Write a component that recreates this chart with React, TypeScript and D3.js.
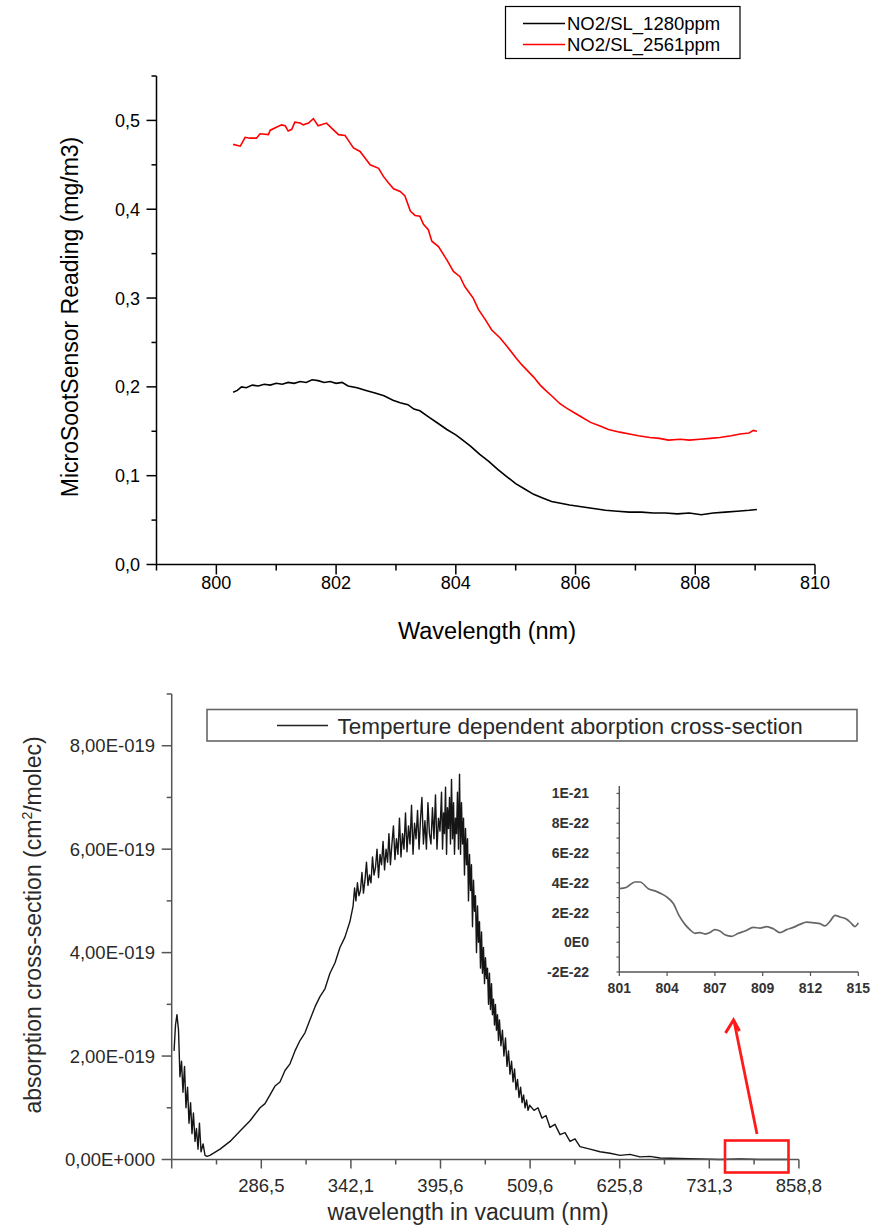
import React from "react";
import * as d3 from "d3";

const W = 882;
const H = 1228;
const FONT = "'Liberation Sans', Arial, Helvetica, sans-serif";

// ---------- top chart: MicroSootSensor readings ----------
const sensorSeries = ["NO2/SL_1280ppm", "NO2/SL_2561ppm"];
const sensorColors = ["#000000", "#ff0000"];

const reading1280: [number, number][] = [
  [800.28, 0.194], [800.35, 0.196], [800.42, 0.2], [800.5, 0.199], [800.6, 0.202], [800.7, 0.201],
  [800.8, 0.203], [800.9, 0.202], [801.0, 0.204], [801.1, 0.203], [801.2, 0.205], [801.3, 0.204],
  [801.4, 0.206], [801.5, 0.205], [801.6, 0.208], [801.7, 0.207], [801.8, 0.205], [801.9, 0.206],
  [802.0, 0.204], [802.1, 0.205], [802.2, 0.201], [802.35, 0.199], [802.5, 0.196], [802.65, 0.193],
  [802.8, 0.19], [802.95, 0.185], [803.07, 0.182], [803.2, 0.18], [803.3, 0.175], [803.4, 0.173],
  [803.55, 0.166], [803.7, 0.159], [803.85, 0.152], [804.0, 0.146], [804.1, 0.141], [804.25, 0.133],
  [804.4, 0.124], [804.55, 0.116], [804.7, 0.107], [804.85, 0.099], [805.0, 0.091], [805.15, 0.085],
  [805.3, 0.079], [805.45, 0.075], [805.6, 0.071], [805.75, 0.069], [805.9, 0.067], [806.1, 0.065],
  [806.3, 0.063], [806.5, 0.061], [806.7, 0.06], [806.9, 0.059], [807.1, 0.059], [807.3, 0.058],
  [807.5, 0.058], [807.7, 0.057], [807.9, 0.058], [808.1, 0.056], [808.3, 0.058], [808.5, 0.059],
  [808.7, 0.06], [808.9, 0.061], [809.03, 0.062],
];

const reading2561: [number, number][] = [
  [800.28, 0.473], [800.4, 0.471], [800.48, 0.481], [800.56, 0.48], [800.67, 0.48], [800.73, 0.485],
  [800.87, 0.484], [800.9, 0.489], [801.09, 0.495], [801.15, 0.494], [801.2, 0.488], [801.26, 0.49],
  [801.31, 0.498], [801.4, 0.497], [801.45, 0.495], [801.54, 0.497], [801.62, 0.502], [801.7, 0.494],
  [801.84, 0.497], [801.93, 0.491], [802.04, 0.484], [802.15, 0.483], [802.23, 0.475], [802.29, 0.469],
  [802.4, 0.465], [802.48, 0.458], [802.57, 0.45], [802.71, 0.446], [802.79, 0.437], [802.87, 0.43],
  [802.96, 0.423], [803.07, 0.42], [803.15, 0.415], [803.24, 0.398], [803.32, 0.393], [803.4, 0.392],
  [803.46, 0.383], [803.54, 0.377], [803.6, 0.364], [803.71, 0.358], [803.85, 0.343], [803.96, 0.33],
  [804.07, 0.324], [804.15, 0.313], [804.29, 0.3], [804.38, 0.287], [804.49, 0.276], [804.6, 0.264],
  [804.74, 0.255], [804.85, 0.246], [805.0, 0.233], [805.1, 0.225], [805.2, 0.218], [805.3, 0.211],
  [805.41, 0.202], [805.5, 0.196], [805.6, 0.19], [805.74, 0.181], [805.85, 0.176], [806.0, 0.17],
  [806.1, 0.166], [806.25, 0.16], [806.41, 0.156], [806.55, 0.152], [806.74, 0.149], [806.9, 0.147],
  [807.05, 0.145], [807.24, 0.143], [807.4, 0.142], [807.55, 0.14], [807.75, 0.141], [807.9, 0.14],
  [808.08, 0.141], [808.25, 0.142], [808.41, 0.143], [808.6, 0.145], [808.75, 0.147], [808.9, 0.148],
  [808.97, 0.151], [809.03, 0.15],
];

const topYTicks = [0, 0.1, 0.2, 0.3, 0.4, 0.5];
const topYTickLabels = ["0,0", "0,1", "0,2", "0,3", "0,4", "0,5"];
const topYMinor = [0.05, 0.15, 0.25, 0.35, 0.45, 0.55];
const topXTicks = [800, 802, 804, 806, 808, 810];
const topXMinor = [799, 801, 803, 805, 807, 809];

// ---------- bottom chart: absorption cross-section (values in 1E-19 cm²/molec) ----------
const wavelengthStops = [230, 286.5, 342.1, 395.6, 509.6, 625.8, 731.3, 858.8];
const wavelengthLabels = ["", "286,5", "342,1", "395,6", "509,6", "625,8", "731,3", "858,8"];
const crossTicks = [0, 2, 4, 6, 8];
const crossTickLabels = ["0,00E+000", "2,00E-019", "4,00E-019", "6,00E-019", "8,00E-019"];
const crossMinor = [1, 3, 5, 7, 9];

const crossSection: [number, number][] = [
  [231.5, 2.1], [232.4, 2.6], [233.3, 2.8], [234.3, 2.5], [235.2, 1.6], [236.2, 1.9], [237.1, 1.3],
  [238.1, 1.8], [239.0, 1.0], [240.0, 1.4], [240.9, 0.7], [241.9, 1.1], [242.8, 0.5], [243.7, 0.9],
  [244.7, 0.35], [245.6, 0.6], [246.6, 0.2], [247.5, 0.7], [248.5, 0.15], [249.8, 0.3], [251.0, 0.08],
  [252.3, 0.06], [254.1, 0.08], [260.5, 0.2], [266.8, 0.35], [273.1, 0.55], [279.4, 0.75], [285.7, 1.0],
  [288.8, 1.08], [291.9, 1.25], [295.0, 1.42], [298.1, 1.5], [301.2, 1.72], [304.3, 1.85], [307.4, 2.1],
  [310.5, 2.3], [313.6, 2.45], [316.7, 2.7], [319.8, 2.95], [322.9, 3.15], [326.0, 3.3], [329.1, 3.6],
  [332.2, 3.8], [335.3, 4.1], [338.4, 4.3], [341.5, 4.6], [343.4, 4.9], [344.3, 5.25], [345.1, 5.0],
  [346.0, 5.35], [346.9, 5.1], [347.8, 5.2], [348.7, 5.55], [349.6, 5.15], [350.5, 5.4], [351.4, 5.75],
  [352.3, 5.3], [353.2, 5.5], [354.1, 5.35], [355.0, 5.85], [355.9, 5.5], [356.8, 5.65], [357.7, 6.0],
  [358.6, 5.45], [359.5, 5.9], [360.4, 5.7], [361.3, 6.15], [362.2, 5.6], [363.1, 6.0], [364.0, 5.75],
  [364.8, 6.3], [365.7, 5.7], [366.6, 6.1], [367.5, 6.45], [368.4, 5.8], [369.3, 6.2], [370.2, 5.9],
  [371.1, 6.6], [372.0, 5.85], [372.9, 6.3], [373.8, 6.0], [374.7, 6.7], [375.6, 5.95], [376.5, 6.45],
  [377.4, 6.1], [378.3, 6.85], [379.2, 5.9], [380.1, 6.5], [381.0, 6.2], [381.9, 6.75], [382.8, 6.0],
  [383.7, 6.6], [384.5, 7.0], [385.4, 6.1], [386.3, 6.55], [387.2, 6.0], [388.1, 6.9], [389.0, 6.3],
  [389.9, 6.1], [390.8, 6.8], [391.7, 6.2], [392.6, 7.05], [393.5, 6.0], [394.4, 6.6], [395.3, 6.35],
  [396.9, 7.1], [398.2, 6.0], [399.5, 6.7], [400.7, 6.3], [402.0, 7.2], [403.3, 5.9], [404.5, 6.8],
  [405.8, 6.4], [407.1, 7.0], [408.3, 6.1], [409.6, 7.35], [410.9, 6.2], [412.2, 6.9], [413.4, 5.9],
  [414.7, 6.6], [416.0, 6.3], [417.2, 7.1], [418.5, 6.0], [419.8, 7.45], [421.1, 5.9], [422.3, 6.9],
  [423.6, 6.1], [424.9, 6.6], [426.1, 5.5], [427.4, 6.4], [428.7, 5.7], [430.0, 6.2], [431.2, 5.0],
  [432.5, 5.9], [433.8, 5.2], [435.0, 5.7], [436.3, 4.5], [437.6, 5.4], [438.9, 4.8], [440.1, 5.1],
  [441.4, 4.0], [442.7, 4.9], [443.9, 4.2], [445.2, 4.6], [446.5, 3.7], [447.8, 4.4], [449.0, 3.6],
  [450.3, 4.1], [451.6, 3.4], [452.8, 3.9], [454.1, 3.5], [455.4, 3.7], [456.7, 3.0], [457.9, 3.6],
  [459.2, 2.9], [460.5, 3.4], [461.7, 2.8], [463.0, 3.1], [464.3, 2.6], [465.5, 3.0], [466.8, 2.5],
  [468.1, 2.8], [469.4, 2.3], [470.6, 2.7], [472.5, 2.2], [474.4, 2.5], [476.3, 2.0], [478.3, 2.35],
  [480.2, 1.8], [482.1, 2.1], [484.0, 1.65], [486.0, 1.9], [487.9, 1.5], [489.8, 1.75], [491.7, 1.35],
  [493.6, 1.55], [495.5, 1.2], [497.5, 1.4], [499.4, 1.1], [501.3, 1.25], [503.2, 1.0], [505.1, 1.15],
  [507.0, 0.95], [509.0, 1.05], [514.7, 0.95], [519.8, 1.0], [525.0, 0.8], [530.2, 0.85], [535.4, 0.62],
  [541.9, 0.68], [548.4, 0.48], [554.9, 0.52], [561.4, 0.35], [567.8, 0.4], [574.3, 0.25], [587.3, 0.2],
  [600.3, 0.15], [613.3, 0.12], [626.2, 0.08], [637.9, 0.1], [649.7, 0.05], [661.5, 0.06], [673.3, 0.03],
  [696.8, 0.02], [720.4, 0.01], [746.5, 0.0], [775.0, 0.01], [803.4, 0.0], [846.1, 0.0],
];

// ---------- inset: zoom 801–815 nm (values in 1E-22) ----------
const insetStops = [801, 804, 807, 809, 812, 815];
const insetYTicks = [-2, 0, 2, 4, 6, 8, 10];
const insetYLabels = ["-2E-22", "0E0", "2E-22", "4E-22", "6E-22", "8E-22", "1E-21"];
const insetCurve: [number, number][] = [
  [801.0, 3.6], [801.46, 3.7], [801.98, 4.05], [802.3, 4.05], [802.82, 3.6], [803.24, 3.45],
  [803.55, 3.3], [803.97, 3.05], [804.39, 2.6], [804.77, 1.75], [805.12, 1.2], [805.43, 0.85],
  [805.75, 0.6], [806.06, 0.65], [806.38, 0.55], [806.69, 0.65], [807.0, 0.85], [807.21, 0.75],
  [807.42, 0.5], [807.7, 0.4], [807.98, 0.6], [808.26, 0.75], [808.61, 1.0], [808.89, 0.95],
  [809.25, 1.05], [809.67, 0.9], [810.08, 0.65], [810.5, 0.85], [810.92, 1.0], [811.34, 1.2],
  [811.76, 1.35], [812.28, 1.3], [812.59, 1.25], [812.91, 1.1], [813.22, 1.4], [813.54, 1.8],
  [813.85, 1.7], [814.27, 1.55], [814.58, 1.25], [814.79, 1.05], [815.0, 1.3],
];

export default function App() {
  // top scales
  const xT = d3.scaleLinear().domain([799, 810]).range([156.5, 815]);
  const yT = d3.scaleLinear().domain([0, 0.55]).range([564.5, 76]);
  const lineT = d3
    .line<[number, number]>()
    .x((d) => xT(d[0]))
    .y((d) => yT(d[1]));

  // bottom scales (evenly spaced ticks with uneven labels)
  const xB = d3
    .scaleLinear()
    .domain(wavelengthStops)
    .range(wavelengthStops.map((_, i) => 171.7 + i * 89.6));
  const yB = d3.scaleLinear().domain([0, 9]).range([1159.5, 694]);
  const lineB = d3
    .line<[number, number]>()
    .x((d) => xB(d[0]))
    .y((d) => yB(d[1]));

  // inset scales
  const xI = d3
    .scaleLinear()
    .domain(insetStops)
    .range(insetStops.map((_, i) => 619.3 + i * 47.8));
  const yI = d3.scaleLinear().domain([-2, 10.5]).range([972, 786]);
  const lineI = d3
    .line<[number, number]>()
    .x((d) => xI(d[0]))
    .y((d) => yI(d[1]))
    .curve(d3.curveMonotoneX);

  const xT0 = xT(799);
  const yT0 = yT(0);
  const xB0 = xB(wavelengthStops[0]);
  const yB0 = yB(0);
  const bottomMinorX = wavelengthStops.slice(1).map((_, i) => 171.7 + (i + 0.5) * 89.6);

  return (
    <svg
      width={W}
      height={H}
      style={{ position: "absolute", left: 0, top: 0, background: "#fff" }}
      fontFamily={FONT}
    >
      {/* ===== TOP CHART ===== */}
      <g>
        <line x1={xT0} x2={xT0} y1={yT(0.55)} y2={yT0} stroke="#000" strokeWidth={1.5} />
        <line x1={xT0} x2={xT(810)} y1={yT0} y2={yT0} stroke="#000" strokeWidth={1.5} />
        {topYTicks.map((t, i) => (
          <g key={"ty" + t}>
            <line x1={xT0 - 10} x2={xT0} y1={yT(t)} y2={yT(t)} stroke="#000" strokeWidth={1.5} />
            <text x={140} y={yT(t)} dy="0.36em" textAnchor="end" fontSize={18}>
              {topYTickLabels[i]}
            </text>
          </g>
        ))}
        {topYMinor.map((t) => (
          <line key={"tym" + t} x1={xT0 - 5} x2={xT0} y1={yT(t)} y2={yT(t)} stroke="#000" strokeWidth={1.5} />
        ))}
        {topXTicks.map((t) => (
          <g key={"tx" + t}>
            <line x1={xT(t)} x2={xT(t)} y1={yT0} y2={yT0 + 10} stroke="#000" strokeWidth={1.5} />
            <text x={xT(t)} y={589} textAnchor="middle" fontSize={18}>
              {t}
            </text>
          </g>
        ))}
        {topXMinor.map((t) => (
          <line key={"txm" + t} x1={xT(t)} x2={xT(t)} y1={yT0} y2={yT0 + 6} stroke="#000" strokeWidth={1.5} />
        ))}
        <text x={487} y={639} textAnchor="middle" fontSize={23.5}>
          Wavelength (nm)
        </text>
        <text transform="translate(78,317) rotate(-90)" textAnchor="middle" fontSize={23}>
          MicroSootSensor Reading (mg/m3)
        </text>

        <path d={lineT(reading1280) || ""} fill="none" stroke={sensorColors[0]} strokeWidth={1.6} />
        <path d={lineT(reading2561) || ""} fill="none" stroke={sensorColors[1]} strokeWidth={1.6} />

        {/* legend */}
        <rect x={505.5} y={6.5} width={234.5} height={52} fill="#fff" stroke="#000" strokeWidth={1.2} />
        {sensorSeries.map((s, i) => (
          <g key={s}>
            <line x1={523} x2={565} y1={23.5 + i * 21} y2={23.5 + i * 21} stroke={sensorColors[i]} strokeWidth={1.6} />
            <text x={567} y={23.5 + i * 21} dy="0.36em" fontSize={18.5}>
              {s}
            </text>
          </g>
        ))}
      </g>

      {/* ===== BOTTOM CHART ===== */}
      <g fill="#2a2a2a">
        <path d={lineB(crossSection) || ""} fill="none" stroke="#151515" strokeWidth={1.4} strokeLinejoin="round" />

        <line x1={xB0} x2={xB0} y1={yB(9)} y2={yB0} stroke="#555" strokeWidth={1.5} />
        <line x1={xB0} x2={xB(858.8)} y1={yB0} y2={yB0} stroke="#555" strokeWidth={1.5} />
        {crossTicks.map((t, i) => (
          <g key={"by" + t}>
            <line x1={xB0 - 10} x2={xB0} y1={yB(t)} y2={yB(t)} stroke="#555" strokeWidth={1.5} />
            <text x={155} y={yB(t)} dy="0.36em" textAnchor="end" fontSize={18.5}>
              {crossTickLabels[i]}
            </text>
          </g>
        ))}
        {crossMinor.map((t) => (
          <line key={"bym" + t} x1={xB0 - 5} x2={xB0} y1={yB(t)} y2={yB(t)} stroke="#555" strokeWidth={1.5} />
        ))}
        {wavelengthStops.map((w, i) => (
          <g key={"bx" + w}>
            <line x1={xB(w)} x2={xB(w)} y1={yB0} y2={yB0 + 9} stroke="#555" strokeWidth={1.5} />
            <text x={xB(w)} y={1192} textAnchor="middle" fontSize={18.5}>
              {wavelengthLabels[i]}
            </text>
          </g>
        ))}
        {bottomMinorX.map((x, i) => (
          <line key={"bxm" + i} x1={x} x2={x} y1={yB0} y2={yB0 + 5} stroke="#555" strokeWidth={1.5} />
        ))}
        <text x={468} y={1220} textAnchor="middle" fontSize={23}>
          wavelength in vacuum (nm)
        </text>
        <text transform="translate(41,925) rotate(-90)" textAnchor="middle" fontSize={23}>
          absorption cross-section (cm
          <tspan fontSize={14} dy={-9}>
            2
          </tspan>
          <tspan dy={9}>/molec)</tspan>
        </text>

        {/* legend */}
        <rect x={207} y={709.5} width={650} height={31.5} fill="#fff" stroke="#666" strokeWidth={1.6} />
        <line x1={277} x2={328} y1={725.5} y2={725.5} stroke="#222" strokeWidth={1.4} />
        <text x={337.5} y={725.5} dy="0.36em" fontSize={22.5}>
          Temperture dependent aborption cross-section
        </text>

        {/* inset */}
        <g>
          <line x1={619.3} x2={619.3} y1={786} y2={972} stroke="#555" strokeWidth={1.4} />
          <line x1={619.3} x2={xI(815)} y1={972} y2={972} stroke="#555" strokeWidth={1.4} />
          {d3.range(-2, 11, 1).map((t) => (
            <line key={"iyt" + t} x1={616.5} x2={619.3} y1={yI(t)} y2={yI(t)} stroke="#555" strokeWidth={1.2} />
          ))}
          {insetYTicks.map((t, i) => (
            <text
              key={"iy" + t}
              x={589}
              y={yI(t)}
              dy="0.36em"
              textAnchor="end"
              fontSize={14}
              fontWeight="bold"
              fill="#333"
            >
              {insetYLabels[i]}
            </text>
          ))}
          {insetStops.map((w) => (
            <g key={"ix" + w}>
              <line x1={xI(w)} x2={xI(w)} y1={972} y2={976} stroke="#555" strokeWidth={1.2} />
              <text x={xI(w)} y={993} textAnchor="middle" fontSize={14} fontWeight="bold" fill="#333">
                {w}
              </text>
            </g>
          ))}
          <path d={lineI(insetCurve) || ""} fill="none" stroke="#666" strokeWidth={1.7} />
        </g>

        {/* highlight box and arrow */}
        <rect x={725} y={1140.5} width={63.5} height={32} fill="none" stroke="#ff1a1a" strokeWidth={2.6} />
        <line x1={757} y1={1134} x2={734} y2={1021} stroke="#ff1a1a" strokeWidth={2.8} />
        <polyline
          points="725.5,1033 733.5,1020 739.5,1031"
          fill="none"
          stroke="#ff1a1a"
          strokeWidth={3}
          strokeLinejoin="miter"
        />
      </g>
    </svg>
  );
}
